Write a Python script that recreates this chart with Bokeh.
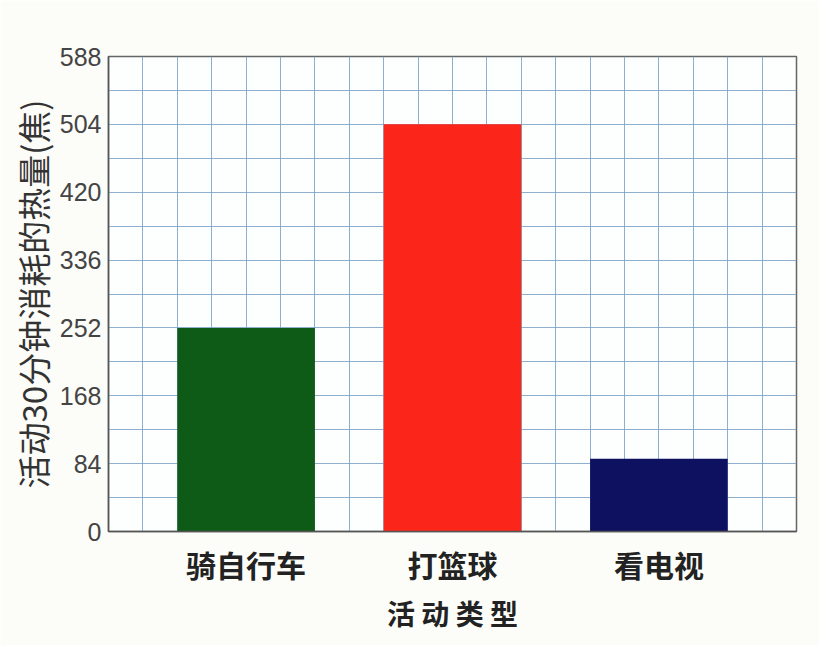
from bokeh.plotting import figure
from bokeh.models import Range1d, FixedTicker, ColumnDataSource
from bokeh.embed import file_html
from bokeh.resources import INLINE

# ---- data ----
activities = ["骑自行车", "打篮球", "看电视"]
calories = [252, 504, 90]
bar_colors = ["#0e5a17", "#fb2519", "#0d1160"]
y_ticks = [0, 84, 168, 252, 336, 420, 504, 588]
x_title = "活 动 类 型"
y_title = "活动30分钟消耗的热量(焦)"

# category slots on a 20-cell grid: each category takes 6 cells, bar 4 cells wide
slot = 6
x_pos = [slot * i + 4 for i in range(len(activities))]

src = ColumnDataSource(dict(x=x_pos, act=activities, cal=calories, color=bar_colors))

p = figure(
    x_range=Range1d(0, 20),
    y_range=Range1d(0, 588),
    width=819, height=645,
    min_border_left=108, min_border_right=23, min_border_top=56, min_border_bottom=114,
    output_backend="svg", toolbar_location=None,
    background_fill_color="#fdfefe", border_fill_color="#fcfcf8",
)

# grids
p.xgrid.ticker = FixedTicker(ticks=list(range(0, 21)))
p.xgrid.grid_line_color = "#7aa2c6"
p.xgrid.grid_line_width = 1
p.xgrid.grid_line_alpha = 0.85
p.ygrid.ticker = FixedTicker(ticks=list(range(0, 589, 42)))
p.ygrid.grid_line_color = "#7aa2c6"
p.ygrid.grid_line_width = 1
p.ygrid.grid_line_alpha = 0.85

p.vbar(x="x", top="cal", width=4, color="color", source=src, line_color=None)

# axes
p.yaxis.ticker = FixedTicker(ticks=y_ticks)
p.yaxis.minor_tick_line_color = None
p.yaxis.major_tick_out = 0
p.yaxis.major_tick_in = 0
p.yaxis.major_label_standoff = 7
p.yaxis.major_label_text_font = "Liberation Sans"
p.yaxis.major_label_text_font_size = "25px"
p.yaxis.major_label_text_color = "#444444"
p.yaxis.axis_line_color = "#555555"
p.yaxis.axis_line_width = 1.5
p.yaxis.axis_label = y_title
p.yaxis.axis_label_text_font = "Noto Sans CJK SC"
p.yaxis.axis_label_text_font_size = "33px"
p.yaxis.axis_label_text_font_style = "normal"
p.yaxis.axis_label_text_color = "#333333"
p.yaxis.axis_label_standoff = 0

p.xaxis.ticker = FixedTicker(ticks=x_pos)
p.xaxis.major_label_overrides = {x: a for x, a in zip(x_pos, activities)}
p.xaxis.minor_tick_line_color = None
p.xaxis.major_tick_out = 0
p.xaxis.major_tick_in = 0
p.xaxis.major_label_standoff = 10
p.xaxis.major_label_text_font = "Noto Sans CJK SC"
p.xaxis.major_label_text_font_size = "30px"
p.xaxis.major_label_text_font_style = "bold"
p.xaxis.major_label_text_color = "#222222"
p.xaxis.axis_line_color = "#555555"
p.xaxis.axis_line_width = 1.5
p.xaxis.axis_label = x_title
p.xaxis.axis_label_text_font = "Noto Sans CJK SC"
p.xaxis.axis_label_text_font_size = "28px"
p.xaxis.axis_label_text_font_style = "bold"
p.xaxis.axis_label_text_color = "#222222"
p.xaxis.axis_label_standoff = 4

p.outline_line_color = "#666666"
p.outline_line_width = 1.5

open("out.html", "w").write(file_html(p, INLINE))
